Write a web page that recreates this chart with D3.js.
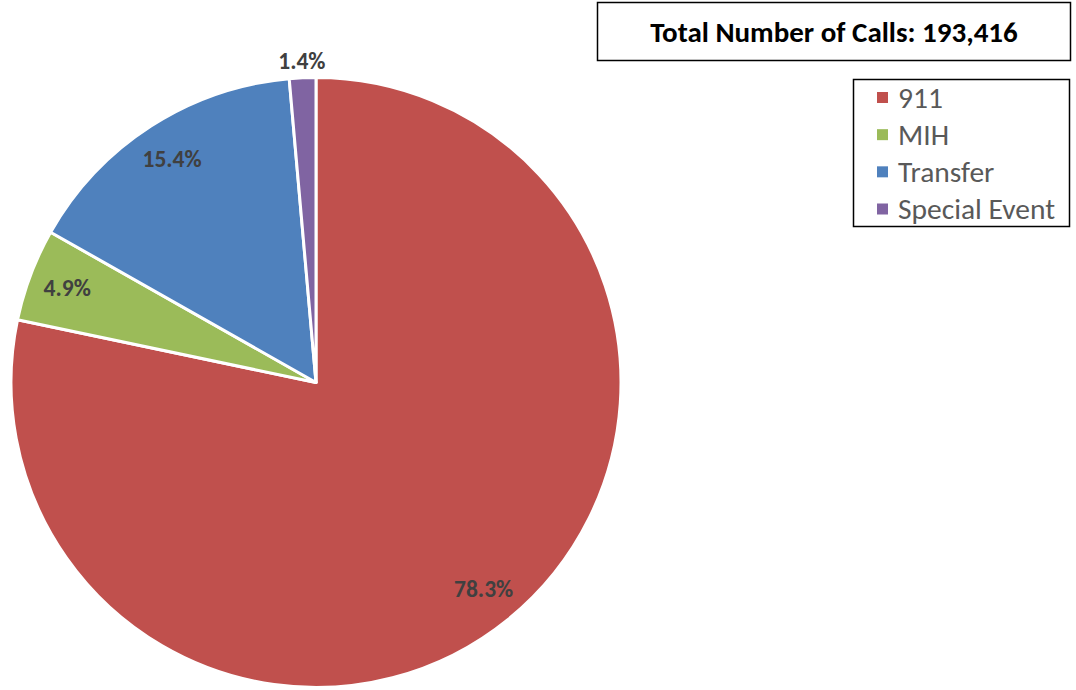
<!DOCTYPE html>
<html>
<head>
<meta charset="utf-8">
<script src="https://cdn.jsdelivr.net/npm/d3@7"></script>
<style>
  html, body { margin: 0; padding: 0; background: #fff; }
  svg { display: block; font-family: Carlito, Calibri, Lato, "Noto Sans", sans-serif; }
</style>
</head>
<body>
<svg id="chart" width="1076" height="690"></svg>
<script>
// Call volume share by type
const categories = ["911", "MIH", "Transfer", "Special Event"];
const shares = [78.3, 4.9, 15.4, 1.4];
const labels = ["78.3%", "4.9%", "15.4%", "1.4%"];
const colors = ["#C0504D", "#9BBB59", "#4F81BD", "#8064A2"];
const totalCalls = 193416;

const svg = d3.select("#chart");
const cx = 316, cy = 382.5, radius = 305;

const data = categories.map((c, i) => ({ name: c, value: shares[i], label: labels[i], color: colors[i] }));

const pie = d3.pie().value(d => d.value).sort(null);
const arcs = pie(data);
const arc = d3.arc().innerRadius(0).outerRadius(radius);
const labelArc = d3.arc().innerRadius(266).outerRadius(266);
const outerLabelArc = d3.arc().innerRadius(322).outerRadius(322);

const g = svg.append("g").attr("transform", `translate(${cx},${cy})`);

g.selectAll("path.slice")
  .data(arcs)
  .join("path")
  .attr("class", "slice")
  .attr("d", arc)
  .attr("fill", d => d.data.color)
  .attr("stroke", "#fff")
  .attr("stroke-width", 3)
  .attr("stroke-linejoin", "round");

// Small slices get their label outside the pie
g.selectAll("text.pct")
  .data(arcs)
  .join("text")
  .attr("class", "pct")
  .attr("transform", d => {
    const small = (d.endAngle - d.startAngle) < 0.15;
    const p = (small ? outerLabelArc : labelArc).centroid(d);
    return `translate(${p[0]},${p[1]})`;
  })
  .attr("text-anchor", "middle")
  .attr("dominant-baseline", "central")
  .attr("font-size", 23.5)
  .attr("font-weight", "bold")
  .attr("fill", "#404040")
  .text(d => d.data.label);

// Title box
const title = svg.append("g");
title.append("rect")
  .attr("x", 597.5).attr("y", 2.5).attr("width", 473).attr("height", 58)
  .attr("fill", "#fff").attr("stroke", "#000").attr("stroke-width", 1.5);
title.append("text")
  .attr("x", 834).attr("y", 32)
  .attr("text-anchor", "middle")
  .attr("dominant-baseline", "central")
  .attr("font-size", 29)
  .attr("font-weight", "bold")
  .attr("fill", "#000")
  .text("Total Number of Calls: " + d3.format(",")(totalCalls));

// Legend
const legend = svg.append("g");
legend.append("rect")
  .attr("x", 853.5).attr("y", 79.5).attr("width", 216).attr("height", 147)
  .attr("fill", "#fff").attr("stroke", "#000").attr("stroke-width", 1.5);
const rowY = d3.scalePoint().domain(categories).range([97.5, 209]);
const items = legend.selectAll("g.item")
  .data(data)
  .join("g")
  .attr("class", "item")
  .attr("transform", d => `translate(0,${rowY(d.name)})`);
items.append("rect")
  .attr("x", 877).attr("y", -5.5).attr("width", 11).attr("height", 11)
  .attr("fill", d => d.color);
items.append("text")
  .attr("x", 898).attr("y", 0)
  .attr("dominant-baseline", "central")
  .attr("font-size", 29.5)
  .attr("fill", "#595959")
  .text(d => d.name);
</script>
</body>
</html>
